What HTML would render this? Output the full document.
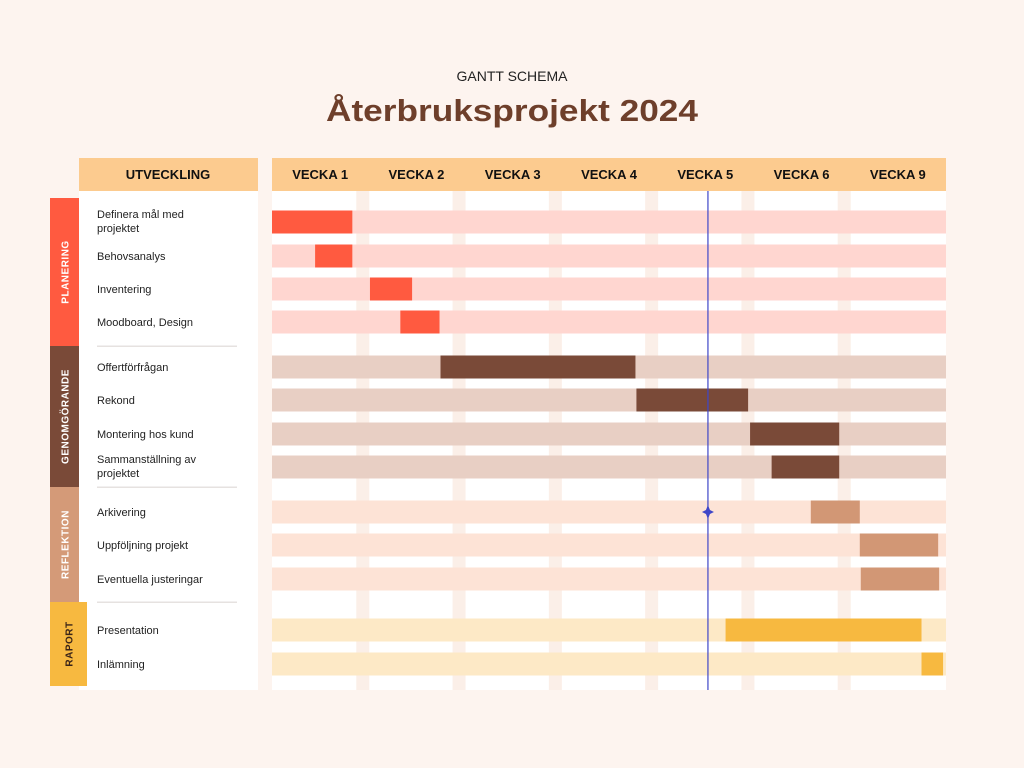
<!DOCTYPE html>
<html><head><meta charset="utf-8"><style>
html,body{margin:0;padding:0;background:#fdf4ef;}
svg{display:block;font-family:"Liberation Sans",sans-serif;}
</style></head><body>
<svg id="chart" width="1024" height="768" viewBox="0 0 1024 768">
<rect x="0" y="0" width="1024" height="768" fill="#fdf4ef"/>
<text x="512" y="81" text-anchor="middle" font-size="14" fill="#222">GANTT SCHEMA</text>
<text x="512" y="121" text-anchor="middle" font-size="31" font-weight="bold" fill="#6e3f2b" textLength="372" lengthAdjust="spacingAndGlyphs">Återbruksprojekt 2024</text>
<rect x="79" y="158" width="179" height="33" fill="#fccb8f"/>
<text x="168" y="179" text-anchor="middle" font-size="13" font-weight="bold" fill="#111">UTVECKLING</text>
<rect x="79" y="191" width="179" height="499" fill="#ffffff"/>
<rect x="272" y="158" width="674" height="33" fill="#fccb8f"/>
<rect x="272" y="191" width="674" height="499" fill="#ffffff"/>
<g id="grid"></g>
<g id="sections"></g>
<g id="rows"></g>
<g id="overlay"></g>
</svg>
<script>
const weekLabels = ["VECKA 1","VECKA 2","VECKA 3","VECKA 4","VECKA 5","VECKA 6","VECKA 9"];
const taskNames = ["Definera mål med|projektet","Behovsanalys","Inventering","Moodboard, Design","Offertförfrågan","Rekond","Montering hos kund","Sammanställning av|projektet","Arkivering","Uppföljning projekt","Eventuella justeringar","Presentation","Inlämning"];
const taskPhase = [0,0,0,0,1,1,1,1,2,2,2,3,3];
const taskStart = [0,0.44,1.0,1.31,1.72,3.72,4.88,5.1,5.5,6.0,6.01,4.63,6.63];
const taskEnd = [0.82,0.82,1.43,1.71,3.71,4.86,5.79,5.79,6.0,6.8,6.81,6.63,6.85];
const phaseNames = ["PLANERING","GENOMGÖRANDE","REFLEKTION","RAPORT"];
const todayWeek = 4.45;

const NS="http://www.w3.org/2000/svg";
const X0=272, X1=946, WMAX=6.88;
const xs = w => X0 + (w/WMAX)*(X1-X0);
const rowY = [222,256,289,322,367,400,434,467,512,545,579,630,664];
const phaseTop=[198,346,487,602], phaseBot=[346,487,602,686];
const phaseColor=["#ff5a40","#7a4a38","#d49a78","#f7b940"];
const trackColor=["#ffd6d0","#e8cfc4","#fde3d6","#fde9c6"];
const barColor=["#ff5a40","#7a4a38","#d29775","#f7b940"];
function mk(tag,attrs,parent){const e=document.createElementNS(NS,tag);for(const k in attrs)e.setAttribute(k,attrs[k]);parent.appendChild(e);return e;}
const grid=document.getElementById('grid'), rows=document.getElementById('rows'), sec=document.getElementById('sections'), ov=document.getElementById('overlay');
// column separators and labels
const colW=(X1-X0)/weekLabels.length;
for(let i=0;i<weekLabels.length;i++){
  const cx=X0+colW*(i+0.5);
  const t=mk('text',{x:cx,y:179,'text-anchor':'middle','font-size':13,'font-weight':'bold',fill:'#111'},grid);
  
  
  t.textContent=weekLabels[i];
  if(i>0){
    const s=mk('rect',{x:X0+colW*i-12,y:191,width:13,height:499,fill:'#fbefe8'},grid);
    
    
  }
}
// phases
for(let p=0;p<phaseNames.length;p++){
  const w=p===3?37:29;
  const r=mk('rect',{x:50,y:phaseTop[p],width:w,height:phaseBot[p]-phaseTop[p],fill:phaseColor[p]},sec);
  
  
  const cy=(phaseTop[p]+phaseBot[p])/2, cx=50+w/2+4;
  const t=mk('text',{x:cx,y:cy,'text-anchor':'middle','font-size':10,'font-weight':'bold',fill:p===3?'#3a2418':'#fff',transform:`rotate(-90 ${cx} ${cy})`,'letter-spacing':'0.5'},sec);
  
  
  t.textContent=phaseNames[p];
  if(p<3){
    const l=mk('rect',{x:97,y:phaseBot[p]-0.5,width:140,height:1.5,fill:'#e6e2e0'},sec);
    
    
  }
}
// tasks
for(let i=0;i<taskNames.length;i++){
  const y=rowY[i], p=taskPhase[i];
  const tr=mk('rect',{x:X0,y:y-11.5,width:X1-X0,height:23,fill:trackColor[p]},rows);
  
  
  const b=mk('rect',{x:xs(taskStart[i]),y:y-11.5,width:xs(taskEnd[i])-xs(taskStart[i]),height:23,fill:barColor[p]},rows);
  
  
  const lines=taskNames[i].split('|');
  const t=mk('text',{x:97,y:lines.length>1?y-4:y+4,'font-size':11,fill:'#222'},rows);
  
  
  lines.forEach((ln,k)=>{const ts=mk('tspan',{x:97,dy:k?14:0},t);ts.textContent=ln;});
}
// today line
const tx=xs(todayWeek);
const tl=mk('line',{x1:tx,y1:191,x2:tx,y2:690,stroke:'#3f46c8','stroke-width':1.2},ov);


const st=mk('path',{d:`M${tx} ${505}L${tx+2} ${510}L${tx+6} ${512}L${tx+2} ${514}L${tx} ${519}L${tx-2} ${514}L${tx-6} ${512}L${tx-2} ${510}Z`,fill:'#3f46c8'},ov);


</script>
</body></html>
